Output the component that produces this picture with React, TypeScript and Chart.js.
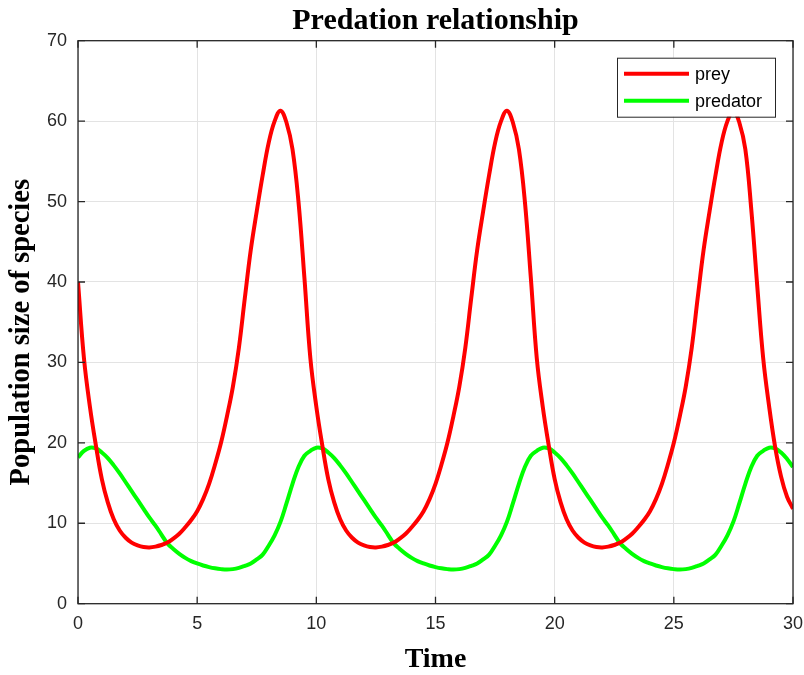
import React, { useEffect, useRef } from 'react';
import { Chart, registerables } from 'chart.js';

Chart.register(...registerables);

const TITLE = 'Predation relationship';
const X_LABEL = 'Time';
const Y_LABEL = 'Population size of species';
const SERIES_LABELS = ['prey', 'predator'];
const SERIES_COLORS = ['#ff0000', '#00ff00'];

const TIME = [
  0, 0.25, 0.5, 0.75, 1, 1.25, 1.5, 1.75, 2, 2.25, 2.5, 2.75, 3, 3.25, 3.5, 3.75, 4, 4.25, 4.5, 4.75,
  5, 5.25, 5.5, 5.75, 6, 6.25, 6.5, 6.75, 7, 7.25, 7.5, 7.75, 8, 8.25, 8.5, 8.75, 9, 9.25, 9.5, 9.75,
  10, 10.25, 10.5, 10.75, 11, 11.25, 11.5, 11.75, 12, 12.25, 12.5, 12.75, 13, 13.25, 13.5, 13.75, 14, 14.25, 14.5, 14.75,
  15, 15.25, 15.5, 15.75, 16, 16.25, 16.5, 16.75, 17, 17.25, 17.5, 17.75, 18, 18.25, 18.5, 18.75, 19, 19.25, 19.5, 19.75,
  20, 20.25, 20.5, 20.75, 21, 21.25, 21.5, 21.75, 22, 22.25, 22.5, 22.75, 23, 23.25, 23.5, 23.75, 24, 24.25, 24.5, 24.75,
  25, 25.25, 25.5, 25.75, 26, 26.25, 26.5, 26.75, 27, 27.25, 27.5, 27.75, 28, 28.25, 28.5, 28.75, 29, 29.25, 29.5, 29.75,
  30,
];

const PREY = [
  40, 30.5, 24.5, 19.7, 15.5, 12.6, 10.5, 9.1, 8.2, 7.6, 7.25, 7.05, 7.0, 7.1, 7.3, 7.6, 8.1, 8.7, 9.5, 10.4,
  11.5, 13.0, 14.9, 17.3, 20.0, 23.3, 27.0, 31.8, 38.0, 44.0, 48.8, 53.3, 57.3, 60.0, 61.3, 59.8, 56.5, 50.0,
  40.5, 30.5, 24.5, 19.7, 15.5, 12.6, 10.5, 9.1, 8.2, 7.6, 7.25, 7.05, 7.0, 7.1, 7.3, 7.6, 8.1, 8.7, 9.5, 10.4,
  11.5, 13.0, 14.9, 17.3, 20.0, 23.3, 27.0, 31.8, 38.0, 44.0, 48.8, 53.3, 57.3, 60.0, 61.3, 59.8, 56.5, 50.0,
  40.5, 30.5, 24.5, 19.7, 15.5, 12.6, 10.5, 9.1, 8.2, 7.6, 7.25, 7.05, 7.0, 7.1, 7.3, 7.6, 8.1, 8.7, 9.5, 10.4,
  11.5, 13.0, 14.9, 17.3, 20.0, 23.3, 27.0, 31.8, 38.0, 44.0, 48.8, 53.3, 57.3, 60.0, 61.3, 59.8, 56.5, 49.0,
  39.5, 30.5, 24.5, 19.5, 15.8, 13.3, 11.8,
];

const PREDATOR = [
  18.2, 19.0, 19.4, 19.3, 18.8, 18.1, 17.2, 16.2, 15.1, 14.0, 12.9, 11.8, 10.7, 9.7, 8.6, 7.5, 6.8, 6.2, 5.7, 5.3,
  5.0, 4.75, 4.55, 4.4, 4.3, 4.25, 4.3, 4.45, 4.7, 5.0, 5.5, 6.1, 7.2, 8.5, 10.2, 12.5, 14.9, 17.0,
  18.4, 19.0, 19.4, 19.3, 18.8, 18.1, 17.2, 16.2, 15.1, 14.0, 12.9, 11.8, 10.7, 9.7, 8.6, 7.5, 6.8, 6.2, 5.7, 5.3,
  5.0, 4.75, 4.55, 4.4, 4.3, 4.25, 4.3, 4.45, 4.7, 5.0, 5.5, 6.1, 7.2, 8.5, 10.2, 12.5, 14.9, 17.0,
  18.4, 19.0, 19.4, 19.3, 18.8, 18.1, 17.2, 16.2, 15.1, 14.0, 12.9, 11.8, 10.7, 9.7, 8.6, 7.5, 6.8, 6.2, 5.7, 5.3,
  5.0, 4.75, 4.55, 4.4, 4.3, 4.25, 4.3, 4.45, 4.7, 5.0, 5.5, 6.1, 7.2, 8.5, 10.2, 12.5, 14.9, 17.0,
  18.4, 19.0, 19.4, 19.3, 18.8, 18.0, 17.0,
];

const X_MIN = 0;
const X_MAX = 30;
const X_STEP = 5;
const Y_MIN = 0;
const Y_MAX = 70;
const Y_STEP = 10;

const SANS = "'Liberation Sans', Arial, sans-serif";
const SERIF = "'Liberation Serif', 'Times New Roman', serif";
const AXIS_COLOR = '#262626';

const matlabAxesPlugin = {
  id: 'matlabAxes',
  afterDatasetsDraw(chart: any) {
    const { ctx, chartArea, scales } = chart;
    const { left, right, top, bottom } = chartArea;
    const xs = scales.x;
    const ys = scales.y;
    ctx.save();
    ctx.strokeStyle = AXIS_COLOR;
    ctx.lineWidth = 1.3;
    ctx.strokeRect(left, top, right - left, bottom - top);
    const L = 7;
    ctx.beginPath();
    xs.ticks.forEach((t: any) => {
      const px = xs.getPixelForValue(t.value);
      ctx.moveTo(px, bottom);
      ctx.lineTo(px, bottom - L);
      ctx.moveTo(px, top);
      ctx.lineTo(px, top + L);
    });
    ys.ticks.forEach((t: any) => {
      const py = ys.getPixelForValue(t.value);
      ctx.moveTo(left, py);
      ctx.lineTo(left + L, py);
      ctx.moveTo(right, py);
      ctx.lineTo(right - L, py);
    });
    ctx.stroke();
    ctx.restore();
  },
  afterDraw(chart: any) {
    const { ctx, chartArea } = chart;
    const cx = (chartArea.left + chartArea.right) / 2;
    const cy = (chartArea.top + chartArea.bottom) / 2;
    ctx.save();
    // title, centred over the plot area
    ctx.fillStyle = '#000000';
    ctx.font = `bold 30px ${SERIF}`;
    ctx.textAlign = 'center';
    ctx.textBaseline = 'alphabetic';
    ctx.fillText(TITLE, cx, chartArea.top - 11.5);
    // y-axis label
    ctx.save();
    ctx.translate(22, cy + 10);
    ctx.rotate(-Math.PI / 2);
    ctx.font = `bold 28.5px ${SERIF}`;
    ctx.textBaseline = 'middle';
    ctx.fillText(Y_LABEL, 0, 0);
    ctx.restore();
    // legend
    const w = 158;
    const h = 59;
    const bx = chartArea.right - 18 - w;
    const by = chartArea.top + 17;
    ctx.fillStyle = '#ffffff';
    ctx.fillRect(bx, by, w, h);
    ctx.strokeStyle = AXIS_COLOR;
    ctx.lineWidth = 1;
    ctx.strokeRect(bx + 0.5, by + 0.5, w, h);
    ctx.font = `18px ${SANS}`;
    ctx.textBaseline = 'middle';
    ctx.textAlign = 'left';
    chart.data.datasets.forEach((ds: any, i: number) => {
      const ly = by + 16 + i * 27;
      ctx.strokeStyle = ds.borderColor;
      ctx.lineWidth = 4;
      ctx.beginPath();
      ctx.moveTo(bx + 7, ly);
      ctx.lineTo(bx + 72, ly);
      ctx.stroke();
      ctx.fillStyle = '#000000';
      ctx.fillText(ds.label, bx + 78, ly + 1);
    });
    ctx.restore();
  },
};

export default function App() {
  const canvasRef = useRef<HTMLCanvasElement | null>(null);

  useEffect(() => {
    if (!canvasRef.current) return;
    const preyPts = TIME.map((t, i) => ({ x: t, y: PREY[i] }));
    const predPts = TIME.map((t, i) => ({ x: t, y: PREDATOR[i] }));
    const chart = new Chart(canvasRef.current, {
      type: 'line',
      data: {
        datasets: [
          {
            label: SERIES_LABELS[0],
            data: preyPts,
            borderColor: SERIES_COLORS[0],
            backgroundColor: SERIES_COLORS[0],
            borderWidth: 4,
            pointRadius: 0,
            tension: 0.4,
            fill: false,
          },
          {
            label: SERIES_LABELS[1],
            data: predPts,
            borderColor: SERIES_COLORS[1],
            backgroundColor: SERIES_COLORS[1],
            borderWidth: 4,
            pointRadius: 0,
            tension: 0.4,
            fill: false,
          },
        ],
      },
      options: {
        animation: false,
        responsive: true,
        maintainAspectRatio: false,
        events: [],
        layout: { padding: { left: 0, right: 0, top: 40.7, bottom: 0 } },
        plugins: {
          legend: { display: false },
          tooltip: { enabled: false },
          title: { display: false },
        },
        scales: {
          x: {
            type: 'linear',
            min: X_MIN,
            max: X_MAX,
            afterFit: (s: any) => {
              s.height = 71.3;
              s.paddingRight = 11;
              s.paddingLeft = 0;
            },
            ticks: {
              stepSize: X_STEP,
              color: AXIS_COLOR,
              font: { family: SANS, size: 18 },
              padding: 10,
              maxRotation: 0,
            },
            grid: { color: '#e3e3e3', lineWidth: 1, drawTicks: false },
            border: { display: false },
            title: {
              display: true,
              text: X_LABEL,
              color: '#000000',
              font: { family: SERIF, size: 28, weight: 'bold', lineHeight: 1 },
              padding: { top: 0, bottom: 1 },
            },
          },
          y: {
            type: 'linear',
            min: Y_MIN,
            max: Y_MAX,
            afterFit: (s: any) => {
              s.width = 78;
              s.paddingTop = 0;
              s.paddingBottom = 0;
            },
            ticks: {
              stepSize: Y_STEP,
              color: AXIS_COLOR,
              font: { family: SANS, size: 18 },
              padding: 11,
            },
            grid: { color: '#e3e3e3', lineWidth: 1, drawTicks: false },
            border: { display: false },
            title: { display: false },
          },
        },
      },
      plugins: [matlabAxesPlugin],
    } as any);
    return () => chart.destroy();
  }, []);

  return (
    <div style={{ position: 'absolute', left: 0, top: 0, width: 804, height: 675, background: '#ffffff' }}>
      <canvas ref={canvasRef} />
    </div>
  );
}
